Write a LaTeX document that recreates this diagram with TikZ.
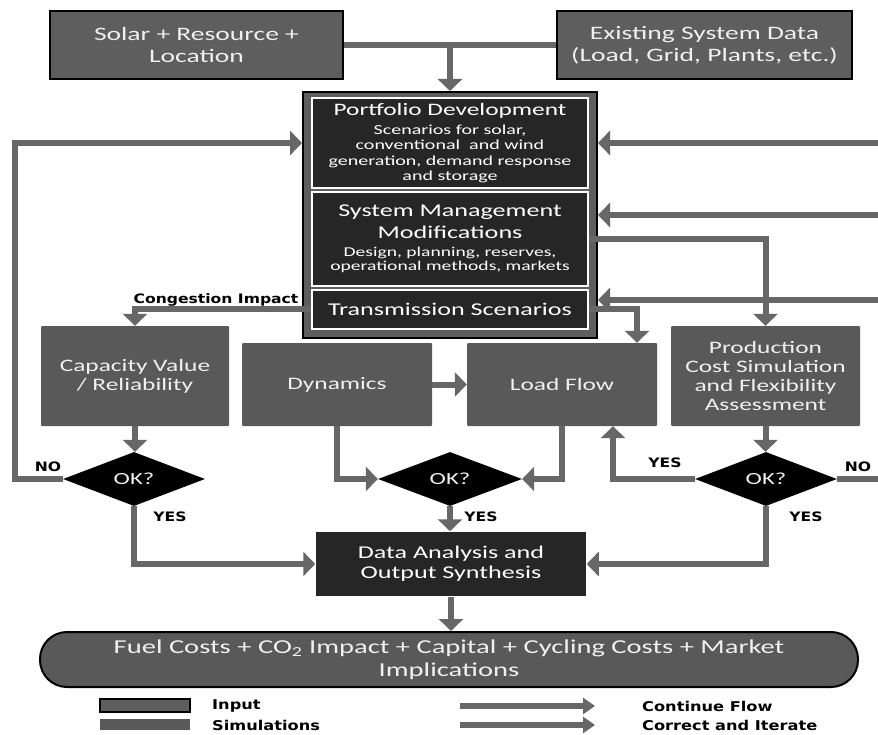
\documentclass[tikz,border=0pt]{standalone}
\usepackage{fontspec}
\setmainfont{Carlito}[FakeStretch=1.45]
\newfontfamily\lblfont{DejaVu Sans}[FakeStretch=1.2]
\usetikzlibrary{arrows.meta,shapes.geometric,calc}
\definecolor{boxg}{HTML}{595959}
\definecolor{inpg}{HTML}{5E5E5E}
\definecolor{darkb}{HTML}{262626}
\definecolor{arrg}{HTML}{676767}
\definecolor{txtc}{HTML}{F0F0F0}
\begin{document}
\begin{tikzpicture}[x=1pt,y=-1pt,
  sim/.style={rectangle, fill=boxg, text=txtc, align=center, inner sep=0pt, rounded corners=1pt},
  inp/.style={rectangle, fill=inpg, draw=black, line width=2pt, text=txtc, align=center, inner sep=0pt},
  subb/.style={rectangle, fill=darkb, draw=white, line width=1.5pt, text=white, align=center, inner sep=0pt},
  dec/.style={diamond, fill=black, text=txtc, inner sep=0pt, font=\fontsize{17}{20}\selectfont},
  flow/.style={draw=arrg, line width=6pt},
  arr/.style={flow, -{Triangle[length=12pt,width=24pt]}},
  lab/.style={font=\lblfont\bfseries\fontsize{13}{15}\selectfont, text=black, inner sep=0pt},
  leg/.style={lab, anchor=west, font=\lblfont\bfseries\fontsize{13.5}{15}\selectfont},
  big/.style={font=\fontsize{19}{22}\selectfont},
  mid/.style={font=\fontsize{17.5}{19}\selectfont}
]
\useasboundingbox (0,0) rectangle (878,735);

% inputs
\node[inp, big, minimum width=293pt, minimum height=68pt] (solar) at (196.5,45) {Solar + Resource +\\Location};
\node[inp, big, minimum width=295pt, minimum height=68pt] (exist) at (704.5,45) {Existing System Data\\(Load, Grid, Plants, etc.)};

% container
\node[rectangle, fill=inpg, draw=black, line width=2pt, minimum width=294pt, minimum height=246pt, inner sep=0pt] (cont) at (450,215) {};
\node[subb, minimum width=276pt, minimum height=90pt, font=\fontsize{13.8}{15.2}\selectfont] (pf) at (450,143)
  {\fontsize{17.5}{15.2}\selectfont Portfolio Development\\[4pt]
   \fontsize{13.8}{15.2}\selectfont Scenarios for solar,\\conventional\ \ and wind\\generation, demand response\\and storage};
\node[subb, minimum width=276pt, minimum height=94pt, font=\fontsize{13.5}{14}\selectfont] (sm) at (450,239)
  {\fontsize{18}{14}\selectfont System Management\\[5pt]\fontsize{18}{14}\selectfont Modifications\\[4pt]
   \fontsize{13.5}{14}\selectfont Design, planning, reserves,\\operational methods, markets};
\node[subb, minimum width=276pt, minimum height=39pt, font=\fontsize{18}{20}\selectfont] (tr) at (450,309.5) {Transmission Scenarios};

% simulations
\node[sim, mid, minimum width=188pt, minimum height=100pt] (cap) at (135,376) {Capacity Value\\/ Reliability};
\node[sim, mid, minimum width=190pt, minimum height=83pt] (dyn) at (337,384.5) {Dynamics};
\node[sim, mid, minimum width=190pt, minimum height=83pt] (lf) at (562,384.5) {Load Flow};
\node[sim, mid, minimum width=189pt, minimum height=100pt] (prod) at (765.5,376) {Production\\Cost Simulation\\and Flexibility\\Assessment};

% decisions
\node[dec, minimum width=142pt, minimum height=54pt] (dL) at (134,479) {OK?};
\node[dec, minimum width=144pt, minimum height=54pt] (dM) at (450,479) {OK?};
\node[dec, minimum width=142pt, minimum height=54pt] (dR) at (766,479) {OK?};

% data analysis
\node[subb, draw=none, font=\fontsize{18}{20}\selectfont, minimum width=270pt, minimum height=64pt] (data) at (451,564) {Data Analysis and\\Output Synthesis};

% output
\node[rectangle, rounded corners=27pt, fill=boxg, draw=black, line width=2pt, text=txtc, align=center, inner sep=0pt,
  font=\fontsize{19.7}{22.5}\selectfont, minimum width=818pt, minimum height=55pt] (out) at (449,659.5)
  {Fuel Costs + CO\textsubscript{2} Impact + Capital + Cycling Costs + Market\\Implications};

% coordinates
\coordinate (jn) at ($(solar.east)!0.5!(exist.west)$);
\coordinate (lx) at (15,479);
\coordinate (r1) at (878,143);
\coordinate (r2) at (878,215);
\coordinate (r3) at (878,300);
\coordinate (re) at (878,479);

% connectors
\draw[flow] (solar.east) -- (exist.west);
\draw[arr] (jn) -- (jn |- cont.north);
\draw[arr] (dL.west) -- (lx) |- (cont.west |- pf.center);
\draw[arr] (r1) -- (cont.east |- r1);
\draw[arr] (r2) -- (cont.east |- r2);
\draw[arr] (r3) -- (cont.east |- r3);
\draw[arr] (sm.east) -| (prod.north);
\draw[arr] (tr.east) -| ([xshift=75pt]lf.north);
\draw[arr] (tr.west) -| (cap.north);
\draw[arr] (dyn.east) -- (lf.west);
\draw[arr] (cap.south) -- (cap.south |- dL.north);
\draw[arr] (dL.south) |- (data.west);
\draw[arr] (dyn.south) |- (dM.west);
\draw[arr] (lf.south) |- (dM.east);
\draw[arr] (dM.south) -- (dM.south |- data.north);
\draw[arr] (prod.south) -- (prod.south |- dR.north);
\draw[arr] (dR.west) -| ([xshift=51pt]lf.south);
\draw[flow] (dR.east) -- (re);
\draw[arr] (dR.south) |- (data.east);
\draw[arr] (data.south) -- (data.south |- out.north);

% labels
\node[lab] (lci) at (216,300) {Congestion Impact};
\node[lab] (lno1) at (48,467) {NO};
\node[lab] (ly1) at (170,517) {YES};
\node[lab] (ly2) at (481,517) {YES};
\node[lab] (ly3) at (665,463) {YES};
\node[lab] (lno2) at (858,467) {NO};
\node[lab] (ly4) at (806,517) {YES};

% legend
\node[inp, minimum width=90pt, minimum height=13pt] (lgin) at (145,705.5) {};
\node[sim, rounded corners=0pt, minimum width=90pt, minimum height=11pt] (lgsim) at (145,724.5) {};
\node[leg] (tin) at (212,706) {Input};
\node[leg] (tsim) at (212,725) {Simulations};
\coordinate (la1) at (460,706);
\coordinate (la2) at (595,706);
\coordinate (lb1) at (460,725);
\coordinate (lb2) at (595,725);
\draw[flow, -{Triangle[length=12pt,width=16pt]}] (la1) -- (la2);
\draw[flow, -{Triangle[length=12pt,width=16pt]}] (lb1) -- (lb2);
\node[leg] (tcf) at (642,706) {Continue Flow};
\node[leg] (tci) at (642,725) {Correct and Iterate};
\end{tikzpicture}
\end{document}
